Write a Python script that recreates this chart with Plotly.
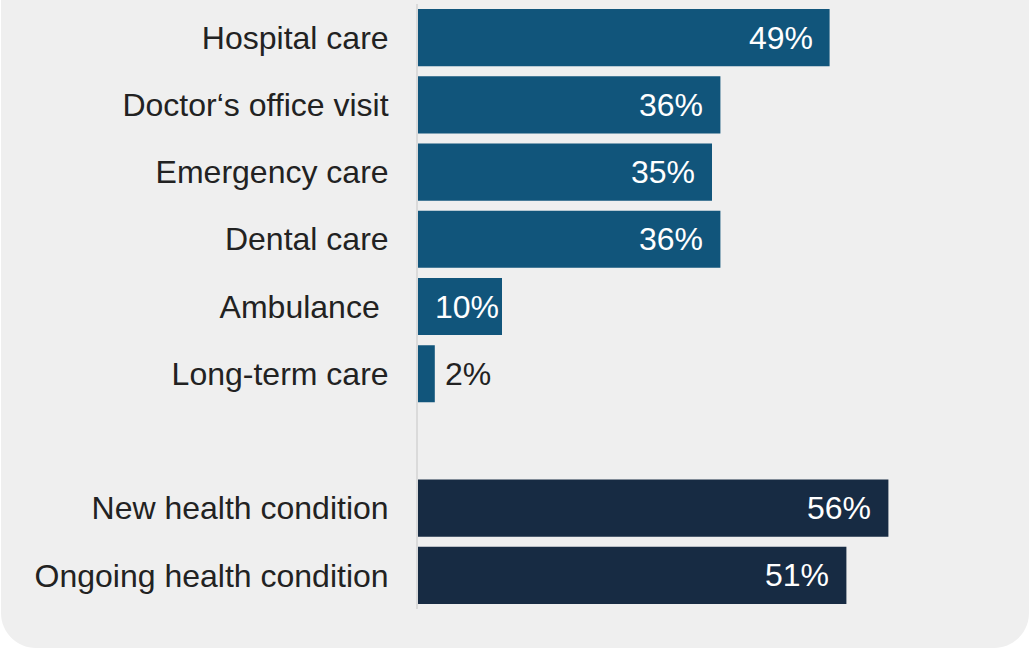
import plotly.graph_objects as go

# Share of respondents, by type of care / condition
care_types = ["Hospital care", "Doctor\u2018s office visit", "Emergency care",
              "Dental care", "Ambulance ", "Long-term care"]
care_values = [49, 36, 35, 36, 10, 2]

conditions = ["New health condition", "Ongoing health condition"]
condition_values = [56, 51]

spacer = " "
category_order = care_types + [spacer] + conditions

W, H = 1030, 650
FONT = "Liberation Sans, Arial, sans-serif"
FONT_SIZE = 32
BLUE = "#11557b"
NAVY = "#172b43"
TEXT = "#222222"
BG = "#efefef"

PX_PER_UNIT = 8.4          # horizontal scale of the bars
PLOT_LEFT, PLOT_TOP, PLOT_BOTTOM = 418, 4, 609
x_max = (W - PLOT_LEFT) / PX_PER_UNIT

fig = go.Figure()
fig.add_trace(go.Bar(y=care_types, x=care_values, orientation="h",
                     marker=dict(color=BLUE, line=dict(width=0)),
                     hoverinfo="skip"))
fig.add_trace(go.Bar(y=conditions, x=condition_values, orientation="h",
                     marker=dict(color=NAVY, line=dict(width=0)),
                     hoverinfo="skip"))

# Value labels: inside the bar when it fits, otherwise just past its end
annotations = []
for cats, vals in ((care_types, care_values), (conditions, condition_values)):
    for c, v in zip(cats, vals):
        label = f"{v}%"
        text_w = (0.556 * (len(label) - 1) + 0.889) * FONT_SIZE
        bar_w = v * PX_PER_UNIT
        if bar_w >= text_w + 36:
            a = dict(xanchor="right", xshift=-15, font_color="white")
        elif bar_w >= text_w + 6:
            a = dict(xanchor="right", xshift=-1, font_color="white")
        else:
            a = dict(xanchor="left", xshift=8, font_color=TEXT)
        annotations.append(dict(x=v, y=c, xref="x", yref="y", text=label,
                                showarrow=False, yanchor="middle",
                                font=dict(family=FONT, size=FONT_SIZE,
                                          color=a["font_color"]),
                                xanchor=a["xanchor"], xshift=a["xshift"]))

# Rounded card behind the chart (square top, rounded bottom corners)
x0, x1 = 1 / W, 1029 / W
y0, y1 = (H - 648) / H, 1.0
rx, ry = 35 / W, 35 / H
k = 0.5523
card = (f"M {x0},{y1} L {x1},{y1} L {x1},{y0 + ry} "
        f"C {x1},{y0 + ry * (1 - k)} {x1 - rx * (1 - k)},{y0} {x1 - rx},{y0} "
        f"L {x0 + rx},{y0} "
        f"C {x0 + rx * (1 - k)},{y0} {x0},{y0 + ry * (1 - k)} {x0},{y0 + ry} Z")

fig.update_layout(
    width=W, height=H,
    margin=dict(l=0, r=0, t=0, b=0),
    paper_bgcolor="white", plot_bgcolor="rgba(0,0,0,0)",
    barmode="overlay", bargap=0.15, showlegend=False,
    font=dict(family=FONT, size=FONT_SIZE, color=TEXT),
    annotations=annotations,
    shapes=[dict(type="path", path=card, xref="paper", yref="paper",
                 fillcolor=BG, line=dict(width=0), layer="below")],
    xaxis=dict(domain=[PLOT_LEFT / W, 1], range=[0, x_max],
               showgrid=False, zeroline=False, showticklabels=False,
               fixedrange=True),
    yaxis=dict(domain=[1 - PLOT_BOTTOM / H, 1 - PLOT_TOP / H],
               categoryorder="array", categoryarray=category_order,
               range=[len(category_order) - 0.5, -0.5],
               showgrid=False, zeroline=False,
               showline=True, linecolor="#dadada", linewidth=2,
               ticks="", ticklabelstandoff=21,
               tickfont=dict(family=FONT, size=FONT_SIZE, color=TEXT),
               automargin=False, fixedrange=True),
)

fig.write_html("out.html")
